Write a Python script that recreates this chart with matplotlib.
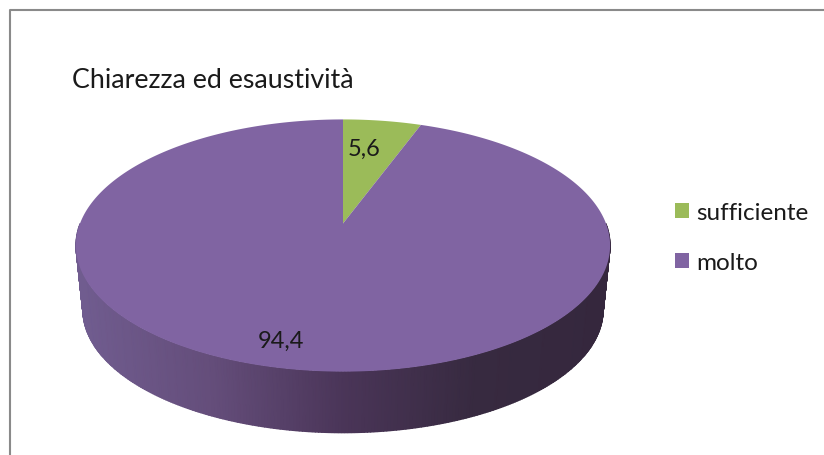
import numpy as np
import matplotlib
matplotlib.use("Agg")
import matplotlib.pyplot as plt
from matplotlib.colors import LinearSegmentedColormap
from matplotlib.patches import Patch

# 1. dati
categories = ["sufficiente", "molto"]
values = [5.6, 94.4]
colors = ["#9BBB59", "#8064A2"]
title = "Chiarezza ed esaustività"

plt.rcParams['font.family'] = ['Lato', 'DejaVu Sans']
TEXT_COLOR = "#1a1a1a"

fig = plt.figure(figsize=(8.24, 4.56), dpi=100)
ax = fig.add_axes([0, 0, 1, 1])
ax.set_xlim(0, 824)
ax.set_ylim(456, 0)
ax.axis('off')

# 2. prospettiva del disco (coordinate in pixel)
CX, R, PERSP = 343, 263, 0.1746


def project(px, py):
    w = 1 + PERSP * py
    return CX + R * px / w, (224.5 - 83.05 * py) / w


def arc(start, end, n=200):
    # angoli in senso orario a partire dalle ore 12
    t = np.radians(np.linspace(start, end, n))
    return np.sin(t), np.cos(t)


# 3. bordo del grafico
ax.plot([824, 10, 10], [10.5, 10.5, 456], color="#8a8a8a", lw=1.5)

# 4. parete laterale con sfumatura
side_cmap = LinearSegmentedColormap.from_list(
    "side", ["#705c8f", "#644d7a", "#4a3558", "#372a40", "#35273d"])
px, py = arc(90, 270, 300)
x_top, y_top = project(px, py)
x_bot = CX + (x_top - CX) * 0.974
y_bot = 310.5 + (y_top - 246) * 0.974
X = np.vstack([x_top, x_bot])
Y = np.vstack([y_top, y_bot])
ax.pcolormesh(X, Y, np.vstack([x_top, x_top]), cmap=side_cmap, shading='gouraud',
              vmin=80, vmax=610, zorder=1)

# 5. fette, dalle ore 12 in senso orario
start = 0
for val, col in zip(values, colors):
    end = start + val / sum(values) * 360
    px, py = arc(start, end, 400)
    xs, ys = project(np.r_[0, px], np.r_[0, py])
    ax.fill(xs, ys, color=col, lw=0, zorder=3)
    start = end

# 6. testi
ax.text(72, 80, title, fontsize=19.3, color=TEXT_COLOR, va='center', ha='left')
label_pos = [(364, 149.5), (281, 341)]
for val, (lx, ly) in zip(values, label_pos):
    ax.text(lx, ly, str(val).replace('.', ','), fontsize=17, color=TEXT_COLOR,
            ha='center', va='center', zorder=5)

handles = [Patch(facecolor=c, edgecolor='none') for c in colors]
ax.legend(handles, categories, loc='upper left', bbox_to_anchor=(675, 203.5),
          bbox_transform=ax.transData, frameon=False, fontsize=17.5,
          handlelength=0.58, handleheight=0.58, handletextpad=0.3,
          labelspacing=1.16, borderpad=0, borderaxespad=0, labelcolor=TEXT_COLOR)

plt.savefig("out.png", dpi=100)
